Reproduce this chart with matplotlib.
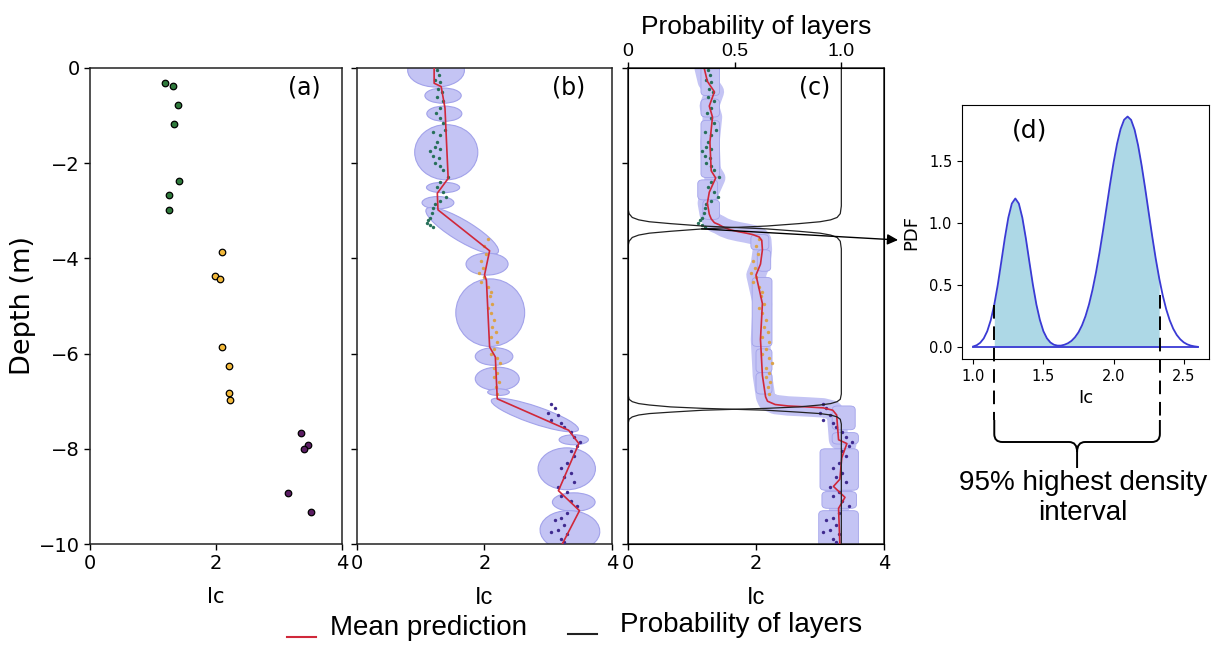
import matplotlib
matplotlib.use("Agg")
import matplotlib.pyplot as plt
import numpy as np
from matplotlib.patches import Ellipse, FancyBboxPatch, PathPatch, ConnectionPatch
from matplotlib.lines import Line2D
from matplotlib.path import Path
from matplotlib.transforms import IdentityTransform

# ---- (a) layer samples ----
a_green_ic = [1.19, 1.32, 1.39, 1.34, 1.42, 1.26, 1.26]
a_green_depth = [-0.32, -0.37, -0.77, -1.17, -2.37, -2.67, -2.98]
a_orange_ic = [2.10, 1.98, 2.07, 2.10, 2.20, 2.20, 2.22]
a_orange_depth = [-3.86, -4.36, -4.43, -5.87, -6.25, -6.82, -6.97]
a_purple_ic = [3.35, 3.46, 3.40, 3.15, 3.50]
a_purple_depth = [-7.66, -7.92, -8.01, -8.92, -9.32]

# ---- measured Ic profile (b) and (c) ----
g_ic = [1.25, 1.28, 1.22, 1.30, 1.27, 1.33, 1.25, 1.35, 1.30, 1.24, 1.30, 1.35, 1.38, 1.20, 1.30,
        1.25, 1.22, 1.30, 1.15, 1.20, 1.28, 1.22, 1.30, 1.35, 1.42, 1.30, 1.25, 1.35, 1.40, 1.30,
        1.22, 1.20, 1.18, 1.15, 1.10, 1.15, 1.20, 1.12]
g_depth = [-0.05, -0.15, -0.25, -0.30, -0.45, -0.50, -0.60, -0.70, -0.85, -0.95, -1.05, -1.15, -1.30, -1.35, -1.40,
           -1.55, -1.65, -1.70, -1.75, -1.85, -1.90, -2.00, -2.05, -2.15, -2.30, -2.40, -2.50, -2.60, -2.70, -2.80,
           -2.85, -2.95, -3.05, -3.15, -3.25, -3.30, -3.35, -3.20]
o_ic = [2.05, 2.00, 2.03, 1.95, 1.98, 1.92, 2.00, 1.95, 2.05, 2.10, 2.08, 2.12, 2.05, 2.10, 2.15,
        2.12, 2.18, 2.10, 2.20, 2.15, 2.10, 2.20, 2.25, 2.15, 2.20, 2.15, 2.22, 2.18, 2.20]
o_depth = [-3.60, -3.75, -3.90, -4.05, -4.20, -4.30, -4.40, -4.50, -4.60, -4.70, -4.80, -4.95, -5.05, -5.15, -5.30,
           -5.45, -5.55, -5.65, -5.75, -5.90, -6.00, -6.10, -6.20, -6.30, -6.40, -6.50, -6.60, -6.70, -6.85]
p_ic = [3.05, 3.10, 3.00, 3.15, 3.05, 3.20, 3.25, 3.35, 3.40, 3.50, 3.45, 3.35, 3.40, 3.30, 3.20,
        3.35, 3.25, 3.40, 3.15, 3.30, 3.20, 3.35, 3.45, 3.30, 3.20, 3.10, 3.25, 3.15, 3.30, 3.05, 3.20, 3.25]
p_depth = [-7.05, -7.15, -7.25, -7.30, -7.40, -7.45, -7.55, -7.65, -7.75, -7.85, -7.95, -8.05, -8.15, -8.30, -8.40,
           -8.50, -8.60, -8.70, -8.80, -8.90, -9.00, -9.10, -9.20, -9.35, -9.45, -9.50, -9.60, -9.70, -9.80, -9.75, -9.90, -9.95]

# ---- (b) mean prediction and uncertainty ellipses ----
b_mean_ic = [1.21, 1.21, 1.32, 1.38, 1.43, 1.26, 1.27, 2.08, 2.00, 2.03, 2.08, 2.17, 2.20, 3.32, 3.48, 3.16, 3.49, 3.22]
b_mean_depth = [0.0, -0.32, -0.39, -0.84, -2.32, -2.63, -2.98, -3.84, -4.35, -4.46, -5.86, -6.07, -6.95,
                -7.61, -7.89, -8.88, -9.30, -10.0]
ell_ic = [1.24, 1.35, 1.37, 1.40, 1.35, 1.27, 1.65, 2.04, 2.09, 2.15, 2.20, 2.22, 2.79, 3.40, 3.29, 3.40, 3.34]
ell_depth = [-0.05, -0.58, -0.96, -1.77, -2.51, -2.83, -3.42, -4.12, -5.14, -6.06, -6.53, -6.81, -7.29, -7.81,
             -8.42, -9.12, -9.72]
ell_w = [0.89, 0.57, 0.55, 0.99, 0.52, 0.50, 1.45, 0.66, 1.08, 0.59, 0.69, 0.34, 1.50, 0.46, 0.90, 0.67, 0.94]
ell_h = [0.70, 0.32, 0.32, 1.16, 0.22, 0.26, 0.40, 0.46, 1.42, 0.37, 0.49, 0.14, 0.35, 0.21, 0.88, 0.39, 0.84]
ell_angle = [0, 0, 0, 0, 0, 0, -40, 0, 0, 0, 0, 0, -25, 0, 0, 0, -10]

# ---- (c) mean prediction, uncertainty boxes, layer probabilities ----
c_mean_ic = [1.19, 1.24, 1.35, 1.27, 1.32, 1.28, 1.30, 1.37, 1.27, 1.24, 1.27, 1.30, 1.35, 1.42, 1.50, 1.60,
             1.73, 1.85, 1.95, 2.05, 2.09, 2.10, 2.07, 2.00, 2.10, 2.07, 2.10, 2.15, 2.18, 2.30, 2.50, 2.80,
             3.05, 3.20, 3.26, 3.29, 3.42, 3.34, 3.31, 3.21, 3.39, 3.29, 3.31]
c_mean_depth = [0.0, -0.28, -0.50, -0.80, -1.03, -1.56, -2.16, -2.31, -2.61, -2.84, -3.07, -3.17, -3.25, -3.29,
                -3.35, -3.40, -3.44, -3.47, -3.50, -3.55, -3.62, -3.82, -4.12, -4.35, -4.95, -5.70, -6.46, -6.91,
                -7.00, -7.07, -7.10, -7.12, -7.14, -7.19, -7.29, -7.81, -7.89, -8.19, -8.64, -8.79, -9.02, -9.25, -10.0]
box_left = [1.14, 1.14, 1.14, 1.09, 1.17, 1.92, 2.02, 1.94, 2.00, 2.00, 3.19, 3.19, 3.00, 3.03, 2.98]
box_right = [1.43, 1.43, 1.43, 1.40, 1.43, 2.20, 2.23, 2.25, 2.25, 2.25, 3.55, 3.60, 3.60, 3.57, 3.60]
box_top = [0.10, -0.65, -1.10, -2.35, -2.77, -3.50, -3.82, -4.40, -5.90, -6.40, -7.10, -7.66, -8.00, -8.90, -9.30]
box_bottom = [-0.58, -1.03, -2.30, -2.77, -3.18, -3.82, -4.27, -5.85, -6.40, -6.85, -7.60, -7.90, -8.87, -9.25, -10.1]

layer1_prob = [1.0, 1.0, 0.995, 0.98, 0.95, 0.9, 0.8, 0.65, 0.5, 0.35, 0.2, 0.1, 0.05, 0.02, 0.005, 0.0, 0.0]
layer1_depth = [0.0, -2.90, -3.06, -3.14, -3.19, -3.23, -3.27, -3.32, -3.35, -3.38, -3.43, -3.47, -3.51, -3.56,
                -3.64, -3.75, -10.0]
layer2_prob = [0.0, 0.0, 0.005, 0.02, 0.05, 0.1, 0.2, 0.35, 0.5, 0.65, 0.8, 0.9, 0.95, 0.98, 0.995, 1.0,
               1.0, 0.995, 0.98, 0.95, 0.9, 0.8, 0.65, 0.5, 0.35, 0.2, 0.1, 0.05, 0.02, 0.005, 0.0, 0.0]
layer2_depth = [0.0, -2.95, -3.06, -3.14, -3.19, -3.23, -3.27, -3.32, -3.35, -3.38, -3.43, -3.47, -3.51, -3.56,
                -3.64, -3.80, -6.85, -6.96, -7.01, -7.05, -7.08, -7.12, -7.15, -7.17, -7.19, -7.23, -7.26, -7.29,
                -7.33, -7.38, -7.48, -10.0]
layer3_prob = [0.0, 0.0, 0.005, 0.02, 0.05, 0.1, 0.2, 0.35, 0.5, 0.65, 0.8, 0.9, 0.95, 0.98, 0.995, 1.0, 1.0]
layer3_depth = [0.0, -6.85, -6.96, -7.01, -7.05, -7.08, -7.12, -7.15, -7.17, -7.19, -7.23, -7.26, -7.29,
                -7.33, -7.38, -7.48, -10.0]

# ---- (d) posterior PDF of Ic at the layer boundary ----
pdf_ic = [1.000, 1.025, 1.050, 1.075, 1.100, 1.125, 1.150, 1.175, 1.200, 1.225, 1.250, 1.275, 1.300,
          1.325, 1.350, 1.375, 1.400, 1.425, 1.450, 1.475, 1.500, 1.525, 1.550, 1.575, 1.600, 1.625,
          1.650, 1.675, 1.700, 1.725, 1.750, 1.775, 1.800, 1.825, 1.850, 1.875, 1.900, 1.925, 1.950,
          1.975, 2.000, 2.025, 2.050, 2.075, 2.100, 2.125, 2.150, 2.175, 2.200, 2.225, 2.250, 2.275,
          2.300, 2.325, 2.350, 2.375, 2.400, 2.425, 2.450, 2.475, 2.500, 2.525, 2.550, 2.575, 2.600]
pdf_val = [0.008, 0.018, 0.038, 0.073, 0.131, 0.220, 0.345, 0.505, 0.690, 0.879, 1.045, 1.159, 1.200,
           1.159, 1.045, 0.879, 0.690, 0.506, 0.346, 0.222, 0.131, 0.074, 0.040, 0.022, 0.015, 0.015,
           0.022, 0.034, 0.053, 0.082, 0.122, 0.178, 0.252, 0.347, 0.465, 0.605, 0.765, 0.942, 1.128,
           1.315, 1.489, 1.641, 1.759, 1.834, 1.860, 1.833, 1.753, 1.627, 1.466, 1.283, 1.089, 0.898,
           0.718, 0.558, 0.421, 0.308, 0.219, 0.151, 0.101, 0.066, 0.041, 0.025, 0.015, 0.009, 0.005]
hdi_ic = [1.15, 2.33]
hdi_pdf = [0.344, 0.425]

W, H = 1221, 648
fig = plt.figure(figsize=(W / 100, H / 100), dpi=100)


def px(x, y):
    # image pixel (top-left origin) -> display coords
    return x, H - y


def rect(x0, y0, x1, y1):
    return [x0 / W, 1 - y1 / H, (x1 - x0) / W, (y1 - y0) / H]


sans = ["Liberation Sans", "DejaVu Sans"]
band = "#c4c4f4"
band_edge = "#a2a2ea"
red = "#d0283a"
col_g, col_o, col_p = "#2f7a3c", "#f2b83a", "#5b1d63"
dot_g, dot_o, dot_p = "#27705a", "#dba24a", "#3f2a8f"

ax_a = fig.add_axes(rect(90, 68, 342, 544))
ax_b = fig.add_axes(rect(357, 68, 612, 544))
ax_c = fig.add_axes(rect(628, 68, 884, 544))
ax_d = fig.add_axes(rect(962, 105, 1209, 359))

for ax in (ax_a, ax_b, ax_c):
    ax.set_xlim(0, 4)
    ax.set_ylim(-10, 0)
    ax.set_xticks([0, 2, 4])
    ax.set_yticks([0, -2, -4, -6, -8, -10])
    ax.tick_params(labelsize=14, width=1, length=4)
    for s in ax.spines.values():
        s.set_linewidth(1.1)
        s.set_color("#222222")
for ax in (ax_b, ax_c):
    ax.set_yticklabels([])

# (a)
ax_a.scatter(a_green_ic, a_green_depth, s=22, c=col_g, edgecolors="black", linewidths=0.9, zorder=3)
ax_a.scatter(a_orange_ic, a_orange_depth, s=22, c=col_o, edgecolors="black", linewidths=0.9, zorder=3)
ax_a.scatter(a_purple_ic, a_purple_depth, s=22, c=col_p, edgecolors="black", linewidths=0.9, zorder=3)
ax_a.set_ylabel("Depth (m)", fontsize=19.5, labelpad=2)
ax_a.set_xlabel("Ic", fontsize=15, labelpad=10)
ax_a.text(0.85, 0.96, "(a)", transform=ax_a.transAxes, fontsize=17, ha="center", va="center")

# (b)
for x, y, w, h, a in zip(ell_ic, ell_depth, ell_w, ell_h, ell_angle):
    ax_b.add_patch(Ellipse((x, y), w, h, angle=a, facecolor=band, edgecolor=band_edge, lw=0.8, zorder=1))
ax_b.scatter(g_ic, g_depth, s=6, c=dot_g, zorder=3, linewidths=0)
ax_b.scatter(o_ic, o_depth, s=6, c=dot_o, zorder=3, linewidths=0)
ax_b.scatter(p_ic, p_depth, s=6, c=dot_p, zorder=3, linewidths=0)
ax_b.plot(b_mean_ic, b_mean_depth, color=red, lw=1.2, zorder=4)
ax_b.set_xlabel("Ic", fontsize=17, family=sans, labelpad=10)
ax_b.text(0.83, 0.96, "(b)", transform=ax_b.transAxes, fontsize=17, ha="center", va="center")

# (c)
ax_c.plot(c_mean_ic, c_mean_depth, color=band, lw=14, solid_capstyle="round", solid_joinstyle="round", zorder=1)
for l, r, t, b in zip(box_left, box_right, box_top, box_bottom):
    ax_c.add_patch(FancyBboxPatch((l, b), r - l, t - b, boxstyle="round,pad=0,rounding_size=0.08",
                                  facecolor=band, edgecolor=band_edge, lw=0.6, zorder=1))
ax_c.scatter(g_ic, g_depth, s=6, c=dot_g, zorder=3, linewidths=0)
ax_c.scatter(o_ic, o_depth, s=6, c=dot_o, zorder=3, linewidths=0)
ax_c.scatter(p_ic, p_depth, s=6, c=dot_p, zorder=3, linewidths=0)
ax_c.plot(c_mean_ic, c_mean_depth, color=red, lw=1.2, zorder=4)
ax_c.set_xlabel("Ic", fontsize=17, family=sans, labelpad=10)
ax_c.text(0.73, 0.96, "(c)", transform=ax_c.transAxes, fontsize=17, ha="center", va="center")

ax_p = ax_c.twiny()
ax_p.set_xlim(0, 1.2)
ax_p.set_xticks([0, 0.5, 1.0])
ax_p.set_xticklabels(["0", "0.5", "1.0"], family=sans)
ax_p.tick_params(labelsize=14, width=1, length=4, pad=2)
for lp, ld in ((layer1_prob, layer1_depth), (layer2_prob, layer2_depth), (layer3_prob, layer3_depth)):
    ax_p.plot(lp, ld, color="#222222", lw=0.9, zorder=2)
ax_p.set_ylim(-10, 0)
ax_p.set_xlabel("Probability of layers", fontsize=19, family=sans, labelpad=6)

# (d)
ic = np.array(pdf_ic)
ax_d.fill_between(pdf_ic, pdf_val, where=(ic >= hdi_ic[0]) & (ic <= hdi_ic[1] + 0.001), color="#add8e6", lw=0)
ax_d.plot(pdf_ic, pdf_val, color="#3a3ad4", lw=1.3)
ax_d.plot([pdf_ic[0], pdf_ic[-1]], [0, 0], color="#3a3ad4", lw=1.3)
ax_d.set_xlim(0.92, 2.68)
ax_d.set_ylim(-0.093, 1.953)
ax_d.set_xticks([1.0, 1.5, 2.0, 2.5])
ax_d.set_yticks([0.0, 0.5, 1.0, 1.5])
ax_d.tick_params(labelsize=10.5)
ax_d.set_xlabel("Ic", fontsize=13)
ax_d.set_ylabel("PDF", fontsize=13, labelpad=6)
ax_d.text(0.275, 0.9, "(d)", transform=ax_d.transAxes, fontsize=18, ha="center", va="center")

# HDI dashed guides and brace
for x, y in zip(hdi_ic, hdi_pdf):
    xd, yd = ax_d.transData.transform((x, y))
    fig.add_artist(Line2D([xd, xd], [yd, H - 420], transform=IdentityTransform(), color="black",
                          lw=1.4, linestyle=(0, (7, 4))))
xl = ax_d.transData.transform((hdi_ic[0], 0))[0]
xr = ax_d.transData.transform((hdi_ic[1], 0))[0]
xm = (xl + xr) / 2
verts = [px(xl, 420), px(xl, 434), px(xl, 442), px(xl + 8, 442), px(xm - 8, 442), px(xm, 442), px(xm, 452),
         px(xm, 468),
         px(xr, 420), px(xr, 434), px(xr, 442), px(xr - 8, 442), px(xm + 8, 442), px(xm, 442), px(xm, 452)]
codes = [Path.MOVETO, Path.LINETO, Path.CURVE3, Path.CURVE3, Path.LINETO, Path.CURVE3, Path.CURVE3, Path.LINETO,
         Path.MOVETO, Path.LINETO, Path.CURVE3, Path.CURVE3, Path.LINETO, Path.CURVE3, Path.CURVE3]
fig.add_artist(PathPatch(Path(verts, codes), transform=IdentityTransform(), facecolor="none",
                         edgecolor="black", lw=1.4))
fig.text(1083 / W, 1 - 498 / H, "95% highest density\ninterval", fontsize=20, family=sans,
         ha="center", va="center", multialignment="center")

# arrow from layer boundary to the PDF panel
fig.add_artist(ConnectionPatch(xyA=(1.15, -3.38), coordsA=ax_c.transData, xyB=px(898, 240),
                               coordsB="figure pixels", arrowstyle="-|>", mutation_scale=16,
                               color="black", lw=1.0))

# legend
fig.add_artist(Line2D([287, 316], [H - 637, H - 637], transform=IdentityTransform(), color=red, lw=1.5))
fig.text(330 / W, 1 - 628 / H, "Mean prediction", fontsize=20, family=sans, va="center")
fig.add_artist(Line2D([568, 597], [H - 634, H - 634], transform=IdentityTransform(), color="#222222", lw=1.5))
fig.text(620 / W, 1 - 625 / H, "Probability of layers", fontsize=20, family=sans, va="center")

fig.savefig("out.png", dpi=100)
